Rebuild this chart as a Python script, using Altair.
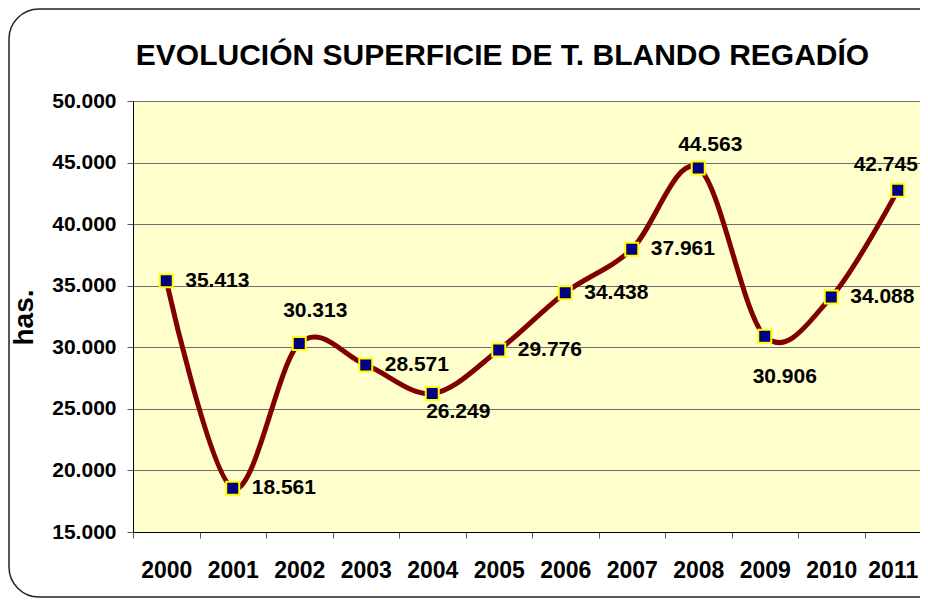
import altair as alt
import pandas as pd

# ---- data ----
years = ["2000", "2001", "2002", "2003", "2004", "2005",
         "2006", "2007", "2008", "2009", "2010", "2011"]
hectares = [35413, 18561, 30313, 28571, 26249, 29776,
            34438, 37961, 44563, 30906, 34088, 42745]
y_ticks = [15000, 20000, 25000, 30000, 35000, 40000, 45000, 50000]

# label groups (placement of the data labels in the reference)
right_label_years = ["2000", "2001", "2003", "2005", "2006", "2007", "2010"]

df = pd.DataFrame({"year": years, "has": hectares})

FONT = "Liberation Sans"
TITLE = "EVOLUCIÓN SUPERFICIE DE T. BLANDO REGADÍO"

x = alt.X(
    "year:N", sort=years,
    scale=alt.Scale(type="band", paddingInner=0, paddingOuter=0, range=[0, 798]),
    axis=alt.Axis(title=None, labelAngle=0, tickBand="extent", tickSize=6,
                  tickColor="#555555", domainColor="#000000", labelPadding=21,
                  labelFontSize=23, labelFont=FONT, labelFontWeight="bold",
                  labelColor="#000000", grid=False,
                  labelOffset={"condition": {"test": "datum.value === '2011'", "value": -5},
                               "value": 0}),
)
y = alt.Y(
    "has:Q",
    scale=alt.Scale(domain=[15000, 50000], nice=False, zero=False),
    axis=alt.Axis(values=y_ticks, title="has.", tickSize=6, tickColor="#555555",
                  domainColor="#000000", gridColor="#6e6e6e", gridWidth=1,
                  labelPadding=11, labelFontSize=21, labelFont=FONT,
                  labelFontWeight="bold", labelColor="#000000",
                  labelExpr="replace(format(datum.value, ','), ',', '.')",
                  titleFont=FONT, titleFontSize=28, titleFontWeight="bold",
                  titleColor="#000000", titleX=-101, titleY=216,
                  titleBaseline="alphabetic", titleAlign="center"),
)

frame = alt.Chart(pd.DataFrame({"k": [0]})).mark_rect(
    cornerRadius=30, fillOpacity=0, stroke="#222222", strokeWidth=1.5
).encode(x=alt.value(-124), x2=alt.value(900), y=alt.value(-92), y2=alt.value(496))

base = alt.Chart(df)

line = base.mark_line(color="#800000", strokeWidth=5, interpolate="cardinal").encode(x=x, y=y)

points = base.mark_point(shape="square", size=169, filled=True, fill="#000080",
                         stroke="#FFFF00", strokeWidth=2, opacity=1).encode(x=x, y=y)

labbase = base.transform_calculate(label="replace(format(datum.has, ','), ',', '.')")


def labels(yrs, **kw):
    return labbase.transform_filter(
        alt.FieldOneOfPredicate(field="year", oneOf=yrs)
    ).mark_text(font=FONT, fontWeight="bold", fontSize=21, color="#000000", **kw).encode(
        x=x, y=y, text="label:N")


lab_layers = [
    labels(right_label_years, align="left", baseline="middle", dx=19),
    labels(["2002"], align="center", baseline="middle", dx=16, dy=-32),
    labels(["2004"], align="center", baseline="middle", dx=26, dy=19),
    labels(["2008"], align="center", baseline="middle", dx=12, dy=-23),
    labels(["2009"], align="center", baseline="middle", dx=20, dy=41),
    labels(["2011"], align="center", baseline="middle", dx=-12, dy=-25),
]

chart = alt.layer(frame, line, points, *lab_layers).properties(
    width=787, height=431,
    padding={"left": 125, "top": 93, "right": 0, "bottom": 66},
    autosize=alt.AutoSizeParams(type="none"),
    title=alt.TitleParams(text=TITLE, font=FONT, fontSize=30, fontWeight="bold",
                          color="#000000", anchor="middle", dx=-24, offset=20,
                          dy=107, baseline="alphabetic"),
).configure_view(fill="#FFFFCC", strokeWidth=0)

chart.save("out.html", embed_options={"renderer": "svg", "actions": False})
